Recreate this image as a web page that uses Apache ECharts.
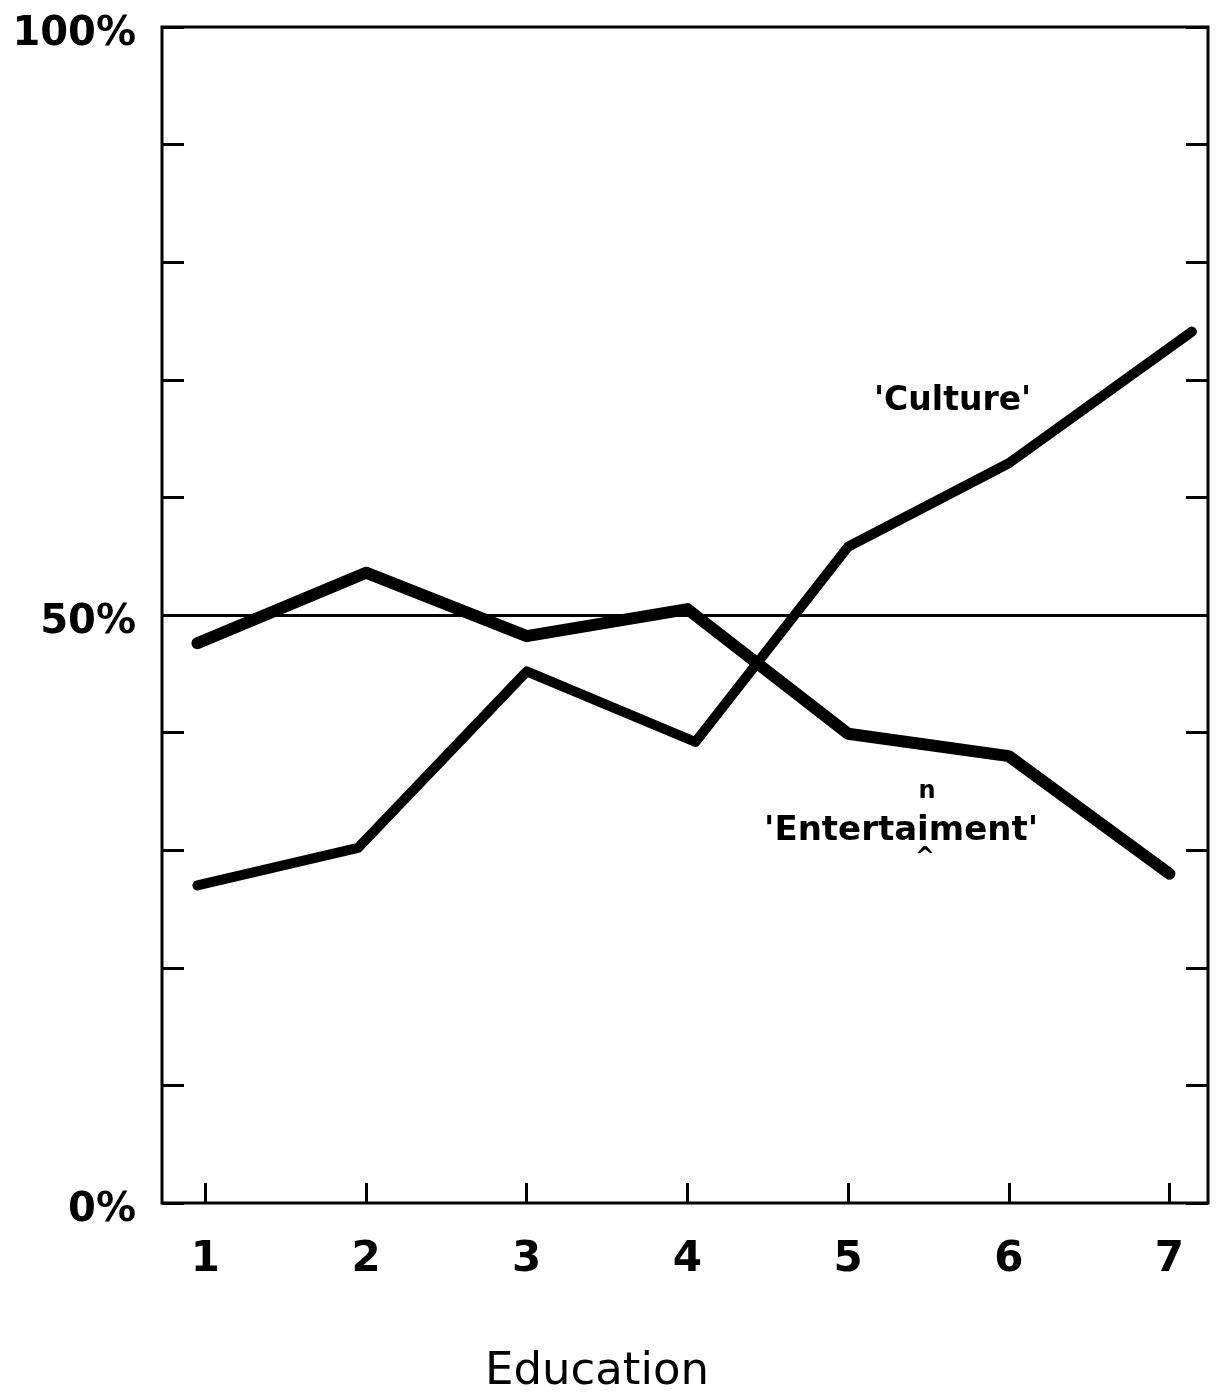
<!DOCTYPE html>
<html>
<head>
<meta charset="utf-8">
<script src="https://cdn.jsdelivr.net/npm/echarts@6/dist/echarts.min.js"></script>
<style>
  html, body { margin: 0; padding: 0; background: #fff; }
  #chart { width: 1224px; height: 1397px; }
</style>
</head>
<body>
<div id="chart"></div>
<script>
// education levels on the x axis
const educationTicks = [1, 2, 3, 4, 5, 6, 7];
// x positions of each drawn point
const cultureX = [0.95, 1.95, 3, 4.05, 5, 6, 7.14];
const entertainX = [0.95, 2, 3, 4, 5, 6, 7];
// percentages
const cultureVals = [27.0, 30.2, 45.2, 39.2, 55.8, 62.9, 74.1];
const entertainVals = [47.6, 53.6, 48.2, 50.5, 39.9, 38.0, 28.0];
const yLabels = { 0: '0%', 50: '50%', 100: '100%' };

const font = '"DejaVu Sans", Verdana, sans-serif';
const pairs = (xs, ys) => xs.map((x, i) => [x, ys[i]]);

const chart = echarts.init(document.getElementById('chart'));
chart.setOption({
  animation: false,
  backgroundColor: '#fff',
  grid: {
    left: 162, right: 16, top: 27, bottom: 194,
    outerBoundsMode: 'none', containLabel: false,
    show: true, borderColor: '#000', borderWidth: 3, backgroundColor: 'transparent'
  },
  xAxis: {
    type: 'value', min: 0.73, max: 7.24,
    axisLine: { show: false },
    splitLine: { show: false },
    axisTick: { show: true, inside: true, length: 20, customValues: educationTicks,
      lineStyle: { color: '#000', width: 3 } },
    axisLabel: { customValues: educationTicks, margin: 36,
      fontFamily: font, fontSize: 42, fontWeight: 'bold', color: '#000' }
  },
  yAxis: [{
    type: 'value', min: 0, max: 100, interval: 10, position: 'left',
    axisLine: { show: false },
    splitLine: { show: false },
    axisTick: { show: true, inside: true, length: 22, lineStyle: { color: '#000', width: 3 } },
    axisLabel: { margin: 26, fontFamily: font, fontSize: 40, fontWeight: 'bold', color: '#000',
      verticalAlign: 'top', lineHeight: 16, formatter: v => yLabels[v] || '' }
  }, {
    type: 'value', min: 0, max: 100, interval: 10, position: 'right',
    axisLine: { show: false },
    splitLine: { show: false },
    axisTick: { show: true, inside: true, length: 22, lineStyle: { color: '#000', width: 3 } },
    axisLabel: { show: false }
  }],
  series: [{
    name: 'Culture', type: 'line', data: pairs(cultureX, cultureVals),
    symbol: 'none', lineStyle: { color: '#000', width: 10, cap: 'round', join: 'round' },
    markLine: {
      silent: true, symbol: 'none', label: { show: false },
      lineStyle: { color: '#000', width: 3, type: 'solid' },
      data: [{ yAxis: 50 }]
    }
  }, {
    name: 'Entertainment', type: 'line', data: pairs(entertainX, entertainVals),
    symbol: 'none', lineStyle: { color: '#000', width: 12, cap: 'round', join: 'round' }
  }],
  graphic: [{
    type: 'text', x: 874, y: 401,
    style: { text: "'Culture'", fontFamily: font, fontSize: 33, fontWeight: 'bold', fill: '#000',
      verticalAlign: 'middle', textAlign: 'left' }
  }, {
    type: 'text', x: 764, y: 831,
    style: { text: "'Entertaiment'", fontFamily: font, fontSize: 34, fontWeight: 'bold', fill: '#000',
      verticalAlign: 'middle', textAlign: 'left' }
  }, {
    type: 'text', x: 927, y: 792,
    style: { text: 'n', fontFamily: font, fontSize: 24, fontWeight: 'bold', fill: '#000',
      verticalAlign: 'middle', textAlign: 'center' }
  }, {
    type: 'text', x: 925, y: 858,
    style: { text: '^', fontFamily: font, fontSize: 24, fontWeight: 'bold', fill: '#000',
      verticalAlign: 'middle', textAlign: 'center' }
  }, {
    type: 'text', x: 597, y: 1372,
    style: { text: 'Education', fontFamily: font, fontSize: 45, fill: '#000',
      verticalAlign: 'middle', textAlign: 'center' }
  }]
});
</script>
</body>
</html>
